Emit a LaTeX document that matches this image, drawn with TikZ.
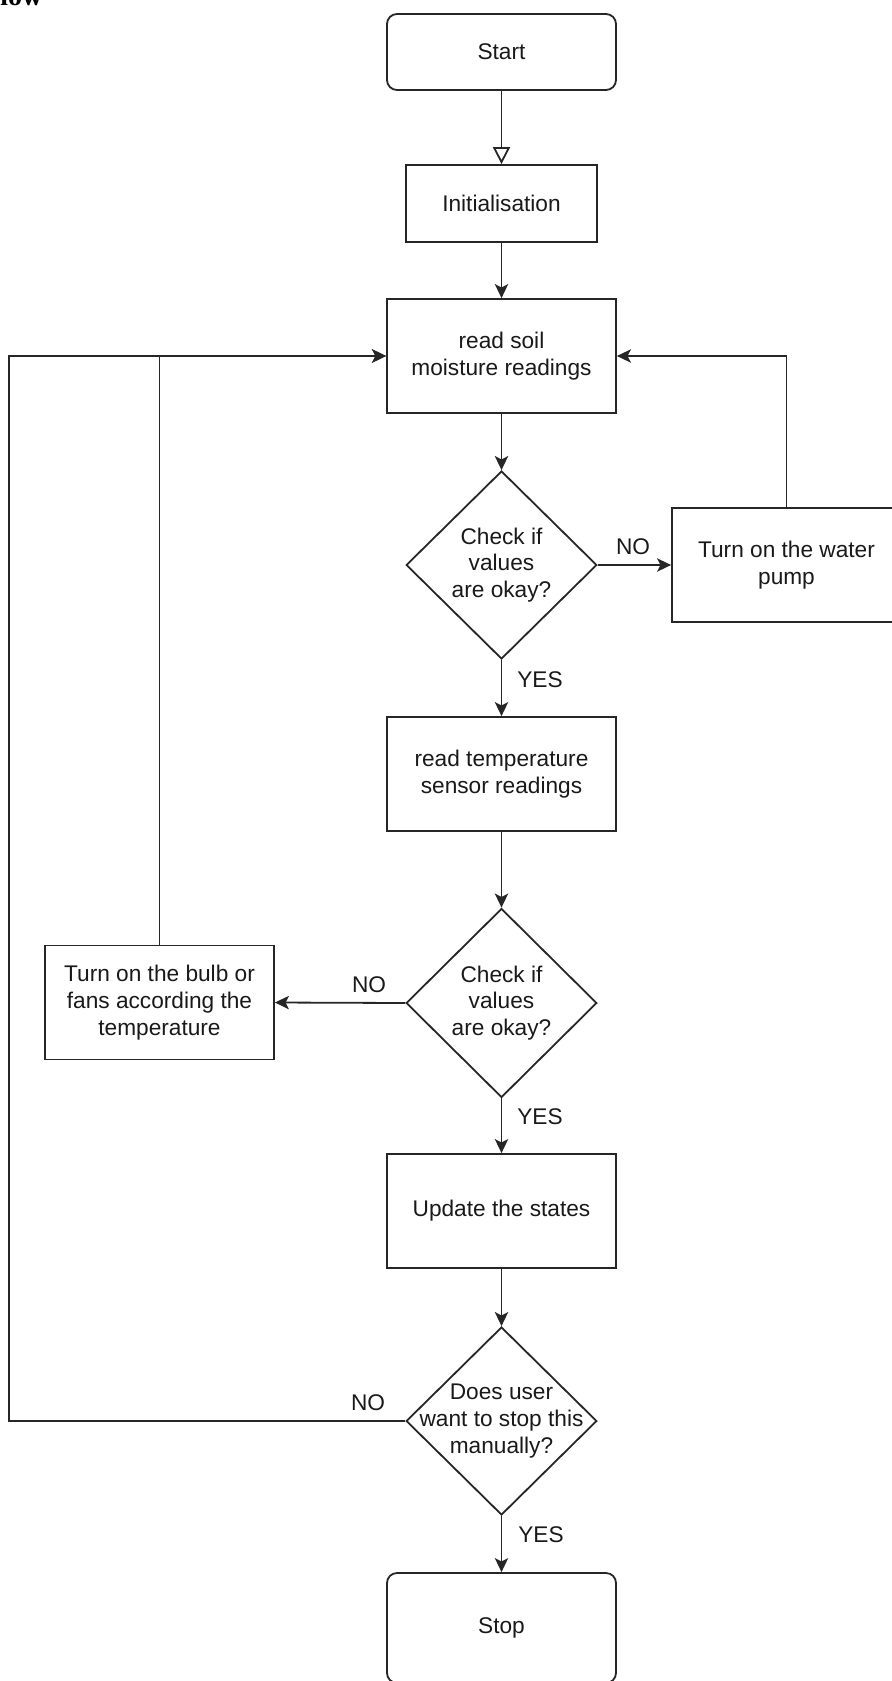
\documentclass[tikz,border=0pt]{standalone}
\usepackage{fontspec}
\setmainfont{Liberation Sans}
\newfontfamily\headserif{Liberation Serif}
\usetikzlibrary{shapes.geometric, arrows.meta}

\begin{document}
\begin{tikzpicture}[x=0.75pt, y=-0.75pt,
  every node/.style={font=\fontsize{17}{20}\selectfont, text=black!90},
  procbox/.style={draw=black!85, line width=1.35pt, align=center, inner sep=2pt,
    minimum width=171.75pt, minimum height=85.5pt},
  terminal/.style={procbox, rounded corners=7.5pt},
  decision/.style={diamond, draw=black!85, line width=1.35pt, inner sep=0pt,
    minimum width=143pt, minimum height=141pt},
  flow/.style={draw=black!85, line width=1.35pt, -{Stealth[length=10.5pt, width=10pt, inset=2.5pt]}},
  opentip/.style={draw=black!85, line width=1.35pt, -{Triangle[open, length=12.75pt, width=12.75pt]}},
  lbl/.style={inner sep=0pt}
]
% page frame
\clip (0,0) rectangle (892,1681);

% heading fragment
\node[anchor=base west, inner sep=0pt, text=black, font=\headserif\bfseries\fontsize{21}{21}\selectfont] (heading) at (0,6) {low};

% main column
\node[terminal, minimum height=57pt] (start) at (501.5,52) {Start};
\node[procbox, minimum width=143.25pt, minimum height=57.75pt] (init) at (501.5,203.5) {Initialisation};
\node[procbox] (soil) at (501.5,356) {read soil\\moisture readings};
\node[decision, label={[align=center, name=d1text]center:Check if\\values\\are okay?}] (d1) at (501.5,565) {};
\node[procbox] (pump) at (786.5,565) {Turn on the water\\pump};
\node[procbox] (temp) at (501.5,774) {read temperature\\sensor readings};
\node[decision, minimum height=141.75pt, label={[align=center, name=d2text]center:Check if\\values\\are okay?}] (d2) at (501.5,1003) {};
\node[procbox] (bulb) at (159.5,1002.5) {Turn on the bulb or\\fans according the\\temperature};
\node[procbox] (update) at (501.5,1211) {Update the states};
\node[decision, label={[align=center, name=d3text]center:Does user\\want to stop this\\manually?}] (d3) at (501.5,1421) {};
\node[terminal, minimum height=82.5pt] (stop) at (501.5,1628) {Stop};

% connectors
\draw[opentip] (start) -- (init);
\draw[flow] (init) -- (soil);
\draw[flow] (soil) -- (d1);
\draw[flow] (d1.east) -- (pump.west);
\draw[flow] (pump.north) |- (soil.east);
\draw[flow] (d1.south) -- (temp.north);
\draw[flow] (temp) -- (d2);
\draw[flow] (d2.west) -- (bulb.east);
\draw[flow] (bulb.north) |- (soil.west);
\draw[flow] (d2.south) -- (update.north);
\draw[flow] (update) -- (d3);
\coordinate (rail) at (9,1421);
\draw[flow] (d3.west) -- (rail) |- (soil.west);
\draw[flow] (d3.south) -- (stop.north);

% branch labels
\node[lbl] (no1) at (633,547) {NO};
\node[lbl] (yes1) at (540,680) {YES};
\node[lbl] (no2) at (369,985) {NO};
\node[lbl] (yes2) at (540,1117) {YES};
\node[lbl] (no3) at (368,1403) {NO};
\node[lbl] (yes3) at (541,1535) {YES};
\end{tikzpicture}
\end{document}
